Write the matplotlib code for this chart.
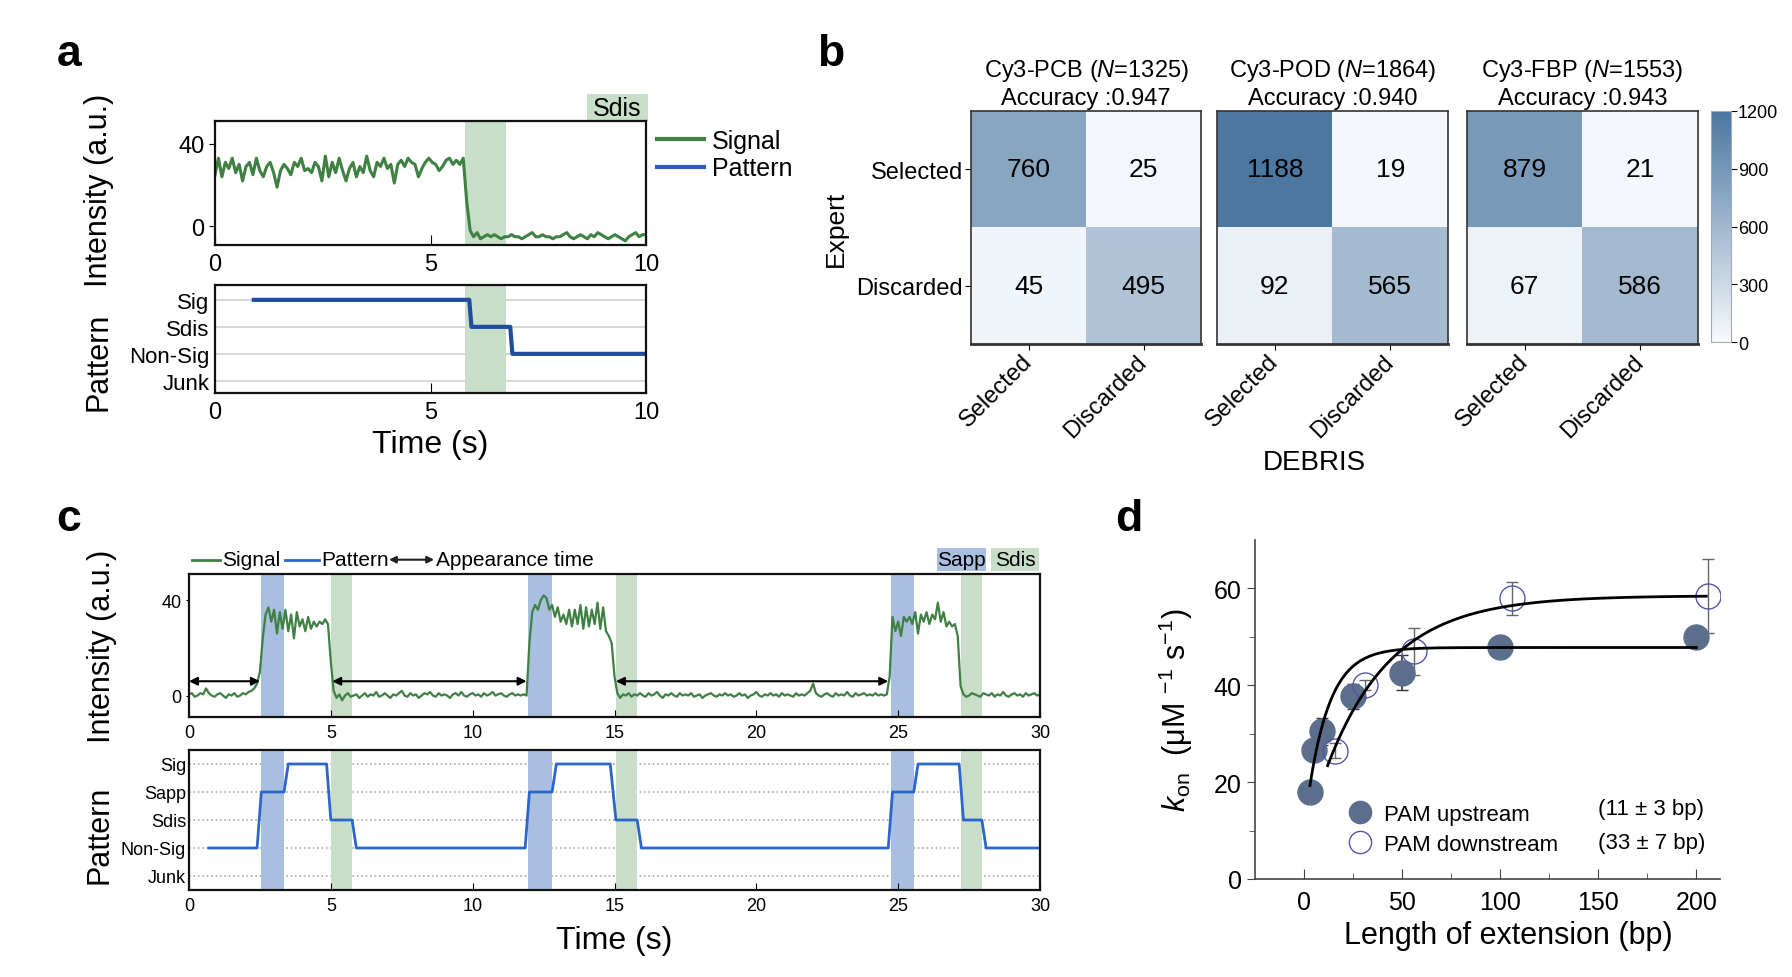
import numpy as np
import matplotlib
matplotlib.use('Agg')
import matplotlib.pyplot as plt
from matplotlib.colors import LinearSegmentedColormap
from matplotlib.patches import Rectangle
from matplotlib.lines import Line2D

plt.rcParams['font.family'] = ['Liberation Sans', 'DejaVu Sans']
plt.rcParams['mathtext.fontset'] = 'custom'
plt.rcParams['mathtext.rm'] = 'Liberation Sans'
plt.rcParams['mathtext.it'] = 'Liberation Sans:italic'

# ---------------- data ----------------
# panel a: single trace, segments given as (t_start, t_end, values)
a_high = [25, 33, 24, 31, 28, 33, 26, 30, 22, 29, 31, 25, 33, 27, 24, 29, 31, 26, 19, 27,
          30, 28, 25, 31, 29, 33, 27, 28, 26, 31, 29, 22, 34, 24, 31, 26, 33, 27, 22, 28,
          31, 24, 29, 26, 34, 27, 24, 31, 29, 33, 28, 30, 21, 30, 32, 29, 33, 31, 30, 24,
          28, 31, 33, 31, 30, 27, 29, 32, 33, 30, 32, 30, 33]
a_low = [12, -2, -5, -3, -6, -5, -4, -5, -4, -5, -6, -5, -5, -4, -5, -5, -6, -5, -4, -3,
         -5, -5, -4, -5, -5, -6, -5, -5, -4, -3, -5, -6, -5, -4, -5, -6, -4, -5, -3, -4,
         -5, -6, -5, -4, -5, -6, -7, -5, -4, -3, -5, -4, -4]
a_segments = [(0.0, 5.76, a_high), (5.84, 10.0, a_low)]
a_pattern_t = [0.9, 5.9, 5.95, 6.85, 6.9, 10.0]
a_pattern_lv = [3, 3, 2, 2, 1, 1]
a_levels = ['Junk', 'Non-Sig', 'Sdis', 'Sig']
a_sdis_band = (5.8, 6.75)

# panel b: confusion matrices
b_names = ['PCB', 'POD', 'FBP']
b_n = [1325, 1864, 1553]
b_acc = ['0.947', '0.940', '0.943']
b_mats = [[[760, 25], [45, 495]],
          [[1188, 19], [92, 565]],
          [[879, 21], [67, 586]]]
b_labels = ['Selected', 'Discarded']

# panel c: trace with three binding events
c_base1 = [0.5, 1.0, -0.5, 0.0, 1.0, 0.5, 3.0, 1.0, 0.0, -0.5, 0.5, 1.0, 0.0, -1.0, 0.5,
           0.0, 1.0, -0.5, 0.0, 1.0, 0.5, 1.5, 2.0, 3.0]
c_high1 = [5, 10, 24, 34, 37, 31, 36, 26, 35, 28, 36, 27, 34, 24, 35, 29, 32, 27, 33, 28,
           31, 29, 31, 30, 32, 30, 14]
c_base2 = [2, -1, 0.5, -2, 0, 1, -0.5, 0, 0.5, -1, 0, 1, -0.5, 0.5, 0, 1.5, -0.5, 0, 1, 0,
           -1, 0.5, 0, 1, 2, 0, -0.5, 1, 0, 0.5, -1, 0, 1, 0.5, 1.5, 0, -0.5, 1, 0, 0.5,
           0, -1, 0.5, 1, 0, 1.5, 0, -0.5, 0.5, 1, 0, 0.5, -0.5, 1, 0, 0.5, 1.5, 0, 0.5, 1,
           0, -0.5, 0.5, 1, 0, 0.5, 0, 0.5, 0]
c_high2 = [22, 35, 38, 36, 40, 42, 41, 36, 38, 33, 37, 31, 34, 30, 36, 29, 36, 30, 38, 28,
           37, 29, 36, 30, 39, 28, 37, 27, 25, 22, 8]
c_base3 = [1, -1, 0.5, 0, 1, -0.5, 0.5, 0, 1, 0, -0.5, 1, 0, 0.5, 1.5, 0, -1, 0.5, 0, 1,
           0, -0.5, 1, 0, 0.5, 0, 1, -0.5, 0, 0.5, -1, 0, 0.5, 1, 0, -0.5, 0.5, 0, 1, 0,
           0.5, -0.5, 0, 1, 0, 0.5, -1, 0, 0.5, 1.5, 0, -0.5, 0.5, 0, 1, 0, 0.5, -0.5, 1, 0,
           0.5, 0, -0.5, 1, 0, 0.5, 0, 1, 2, 5, 1, 0, -0.5, 0.5, 1, 0, -0.5, 1, 0, 0.5,
           0, 1.5, 0, -0.5, 1, 0, 0.5, 1, 0, 0.5, 0, 1, 0, 0.5, 0, 0.5]
c_high3 = [8, 33, 27, 31, 25, 33, 31, 33, 30, 35, 26, 34, 31, 35, 30, 34, 32, 39, 31, 35,
           29, 31, 29, 30, 25, 4]
c_base4 = [0.5, -0.5, 0, 1, 0.5, 0, -0.5, 1, 0.5, 0, 1, -0.5, 0.5, 0, 1.5, 0, -0.5, 0.5,
           1, 0, 0.5, -0.5, 1, 0, 0.5, 1, 0, 0.5]
c_segments = [(0.0, 2.3, c_base1), (2.4, 5.0, c_high1), (5.1, 11.9, c_base2),
              (12.0, 15.0, c_high2), (15.1, 24.6, c_base3), (24.7, 27.2, c_high3),
              (27.3, 30.0, c_base4)]
c_pattern_t = [0.7, 2.4, 2.55, 3.35, 3.5, 4.85, 5.0, 5.75, 5.9, 11.85, 12.0, 12.8, 12.95,
               14.85, 15.05, 15.8, 15.95, 24.65, 24.8, 25.55, 25.7, 27.15, 27.3, 27.95,
               28.1, 30.0]
c_pattern_lv = [1, 1, 3, 3, 4, 4, 2, 2, 1, 1, 3, 3, 4, 4, 2, 2, 1, 1, 3, 3, 4, 4, 2, 2, 1, 1]
c_levels = ['Junk', 'Non-Sig', 'Sdis', 'Sapp', 'Sig']
c_sapp_bands = [(2.55, 3.35), (11.95, 12.8), (24.75, 25.55)]
c_sdis_bands = [(5.0, 5.75), (15.05, 15.8), (27.2, 27.95)]
c_arrows = [(0.0, 2.5), (5.05, 11.9), (15.05, 24.65)]
c_arrow_y = 6

# panel d: kon vs extension length
up_x = [3, 5, 9, 25, 50, 100, 200]
up_y = [18.0, 26.6, 30.5, 37.7, 42.6, 48.0, 50.0]
up_err = [2.0, 1.5, 2.8, 2.5, 3.6, 1.2, 1.5]
dn_x = [16, 31, 56, 106, 206]
dn_y = [26.5, 40.0, 47.0, 58.0, 58.4]
dn_err = [1.5, 1.0, 4.8, 3.4, 7.6]
# exponential fits: plateau, start x, start y, decay length (bp)
up_fit = (47.8, 3, 19.3, 11)
dn_fit = (58.5, 12, 23.4, 33)
up_fit_end = 200
dn_fit_end = 205

green = '#3e8143'
green_band = '#c9dec9'
blue_band = '#a9bfe0'
blue_a = '#1e4f9e'
blue_c = '#2c66cc'

W, H = 1792, 978
fig = plt.figure(figsize=(W / 100, H / 100), dpi=100)


def rect(x0, y0, x1, y1):
    # pixel box -> figure fraction
    return [x0 / W, 1 - y1 / H, (x1 - x0) / W, (y1 - y0) / H]


def trace(segments):
    t, v = [], []
    for t0, t1, vals in segments:
        t.append(np.linspace(t0, t1, len(vals)))
        v.append(np.array(vals, dtype=float))
    return np.concatenate(t), np.concatenate(v)


def frame(ax, lw=1.6):
    for s in ax.spines.values():
        s.set_linewidth(lw)
        s.set_color('#111111')


# ---------------- panel a ----------------
ax = fig.add_axes(rect(215, 122, 646, 246))
ax.axvspan(*a_sdis_band, color=green_band, lw=0)
t, v = trace(a_segments)
ax.plot(t, v, color=green, lw=2.2)
ax.set_xlim(0, 10)
ax.set_ylim(-9, 51)
ax.set_xticks([0, 5, 10])
ax.set_yticks([0, 40])
ax.tick_params(axis='x', direction='in', length=7, labelsize=17, pad=6)
ax.tick_params(axis='y', direction='out', length=4, labelsize=17)
frame(ax)
ax.set_ylabel('Intensity (a.u.)', fontsize=22)
ax.yaxis.set_label_coords(-0.235, 0.45)
handles = [Line2D([], [], color=green, lw=3), Line2D([], [], color='#2a5fb5', lw=3)]
ax.legend(handles, ['Signal', 'Pattern'], loc='upper left', bbox_to_anchor=(0.99, 1.06),
          frameon=False, fontsize=18, handlelength=1.9, handletextpad=0.3,
          labelspacing=0.15, borderaxespad=0.2)
ax.add_patch(Rectangle((0.862, 1.0), 0.143, 0.22, transform=ax.transAxes,
                       color=green_band, clip_on=False, lw=0))
ax.text(0.933, 1.105, 'Sdis', transform=ax.transAxes, ha='center', va='center', fontsize=18)

ax = fig.add_axes(rect(215, 286, 646, 394))
for i in range(len(a_levels)):
    ax.axhline(i, color='#d8d8d8', lw=1.5, zorder=0)
ax.axvspan(*a_sdis_band, color=green_band, lw=0)
ax.plot(a_pattern_t, a_pattern_lv, color=blue_a, lw=3)
ax.set_xlim(0, 10)
ax.set_ylim(-0.45, 3.55)
ax.set_xticks([0, 5, 10])
ax.set_yticks(range(len(a_levels)))
ax.set_yticklabels(a_levels)
ax.tick_params(axis='x', direction='in', length=7, labelsize=17, pad=6)
ax.tick_params(axis='y', length=0, labelsize=16, pad=4)
frame(ax)
ax.set_ylabel('Pattern', fontsize=22)
ax.yaxis.set_label_coords(-0.235, 0.3)
ax.set_xlabel('Time (s)', fontsize=23, labelpad=4)

# ---------------- panel b ----------------
cmap = LinearSegmentedColormap.from_list('conf', ['#f7fafd', '#4a76a0'])
b_boxes = [(971, 112, 1201, 345), (1217, 112, 1448, 345), (1467, 112, 1698, 345)]
for i in range(3):
    ax = fig.add_axes(rect(*b_boxes[i]))
    im = ax.imshow(b_mats[i], cmap=cmap, vmin=0, vmax=1200, aspect='auto')
    for r in range(2):
        for c in range(2):
            ax.text(c, r, str(b_mats[i][r][c]), ha='center', va='center', fontsize=19)
    ax.set_xticks([0, 1])
    ax.set_xticklabels(b_labels, rotation=45, ha='right', va='center',
                       rotation_mode='anchor', fontsize=17)
    ax.tick_params(axis='x', length=4, pad=6)
    if i == 0:
        ax.set_yticks([0, 1])
        ax.set_yticklabels(b_labels, fontsize=17)
        ax.tick_params(axis='y', length=4, pad=2)
        ax.set_ylabel('Expert', fontsize=19, labelpad=6)
    else:
        ax.set_yticks([])
    ax.set_title('Cy3-%s ($N$=%d)\nAccuracy :%s' % (b_names[i], b_n[i], b_acc[i]),
                 fontsize=17, pad=5, linespacing=1.25)
    for s in ax.spines.values():
        s.set_linewidth(1.2)
        s.set_color('#333333')
    ax.spines['bottom'].set_linewidth(2)

cax = fig.add_axes(rect(1711, 112, 1731, 343))
cb = fig.colorbar(im, cax=cax, ticks=[0, 300, 600, 900, 1200])
cb.ax.tick_params(labelsize=13, length=4, pad=1)
cb.outline.set_edgecolor('#aaaaaa')
fig.text(1314 / W, 1 - 463 / H, 'DEBRIS', ha='center', va='center', fontsize=20)

# ---------------- panel c ----------------
ax = fig.add_axes(rect(189, 575, 1040, 718))
for b in c_sapp_bands:
    ax.axvspan(*b, color=blue_band, lw=0)
for b in c_sdis_bands:
    ax.axvspan(*b, color=green_band, lw=0)
t, v = trace(c_segments)
ax.plot(t, v, color=green, lw=1.6)
for x0, x1 in c_arrows:
    ax.annotate('', xy=(x1, c_arrow_y), xytext=(x0, c_arrow_y),
                arrowprops=dict(arrowstyle='<|-|>', color='black', lw=1.5,
                                mutation_scale=12, shrinkA=0, shrinkB=0))
ax.set_xlim(0, 30)
ax.set_ylim(-9, 51)
ax.set_xticks(range(0, 31, 5))
ax.set_yticks([0, 40])
ax.tick_params(axis='x', direction='in', length=5, labelsize=13, pad=5)
ax.tick_params(axis='y', direction='out', length=2, labelsize=13)
frame(ax)
ax.set_ylabel('Intensity (a.u.)', fontsize=22)
ax.yaxis.set_label_coords(-0.085, 0.5)
# legend row above the axes
ly = 1.1
ax.plot([0.004, 0.036], [ly, ly], transform=ax.transAxes, color=green, lw=2, clip_on=False)
ax.text(0.039, ly, 'Signal', transform=ax.transAxes, va='center', fontsize=15)
ax.plot([0.113, 0.153], [ly, ly], transform=ax.transAxes, color=blue_c, lw=2, clip_on=False)
ax.text(0.155, ly, 'Pattern', transform=ax.transAxes, va='center', fontsize=15)
ax.annotate('', xy=(0.288, ly), xytext=(0.235, ly), xycoords='axes fraction',
            arrowprops=dict(arrowstyle='<|-|>', color='#222222', lw=1.5,
                            mutation_scale=10, shrinkA=0, shrinkB=0))
ax.text(0.29, ly, 'Appearance time', transform=ax.transAxes, va='center', fontsize=15)
ax.add_patch(Rectangle((0.879, 1.02), 0.057, 0.16, transform=ax.transAxes,
                       color=blue_band, clip_on=False, lw=0))
ax.text(0.9075, 1.10, 'Sapp', transform=ax.transAxes, ha='center', va='center', fontsize=15)
ax.add_patch(Rectangle((0.942, 1.02), 0.057, 0.16, transform=ax.transAxes,
                       color=green_band, clip_on=False, lw=0))
ax.text(0.9705, 1.10, 'Sdis', transform=ax.transAxes, ha='center', va='center', fontsize=15)

ax = fig.add_axes(rect(189, 751, 1040, 891))
for i in range(len(c_levels)):
    ax.axhline(i, color='#aaaaaa', lw=1.2, ls=':', zorder=0)
for b in c_sapp_bands:
    ax.axvspan(*b, color=blue_band, lw=0)
for b in c_sdis_bands:
    ax.axvspan(*b, color=green_band, lw=0)
ax.plot(c_pattern_t, c_pattern_lv, color=blue_c, lw=2)
ax.set_xlim(0, 30)
ax.set_ylim(-0.5, 4.5)
ax.set_xticks(range(0, 31, 5))
ax.set_yticks(range(len(c_levels)))
ax.set_yticklabels(c_levels)
ax.tick_params(axis='x', direction='in', length=5, labelsize=13, pad=5)
ax.tick_params(axis='y', length=0, labelsize=13, pad=2)
frame(ax)
ax.set_ylabel('Pattern', fontsize=22)
ax.yaxis.set_label_coords(-0.088, 0.4)
ax.set_xlabel('Time (s)', fontsize=23, labelpad=8)

# ---------------- panel d ----------------
ax = fig.add_axes(rect(1255, 541, 1720, 880))
for fit, x_end in [(up_fit, up_fit_end), (dn_fit, dn_fit_end)]:
    plateau, x0, y0, tau = fit
    xs = np.linspace(x0, x_end, 300)
    ax.plot(xs, plateau - (plateau - y0) * np.exp(-(xs - x0) / tau), color='black', lw=2, zorder=3)
ax.errorbar(up_x, up_y, yerr=up_err, fmt='o', ms=18, mfc='#5b6f8c', mec='#5b6f8c',
            ecolor='#333333', elinewidth=1.2, capsize=4, zorder=2)
ax.errorbar(dn_x, dn_y, yerr=dn_err, fmt='o', ms=18, mfc='none', mec='#5656a6', mew=1,
            ecolor='#666666', elinewidth=1.0, capsize=4, zorder=2)
ax.set_xlim(-25, 212)
ax.set_ylim(0, 70)
ax.set_xticks([0, 50, 100, 150, 200])
ax.set_xticks([25, 75, 125, 175], minor=True)
ax.set_yticks([0, 20, 40, 60])
ax.set_yticks([10, 30, 50], minor=True)
ax.spines['top'].set_visible(False)
ax.spines['right'].set_visible(False)
for s in ['left', 'bottom']:
    ax.spines[s].set_color('#444444')
    ax.spines[s].set_linewidth(1.2)
ax.tick_params(axis='x', which='both', direction='in', labelsize=18, pad=8, color='#444444')
ax.tick_params(axis='x', which='major', length=7)
ax.tick_params(axis='x', which='minor', length=4)
ax.tick_params(axis='y', which='both', direction='out', labelsize=18, color='#444444')
ax.tick_params(axis='y', which='major', length=6)
ax.tick_params(axis='y', which='minor', length=4)
ax.set_ylabel(r'$k_{\mathrm{on}}$  (μM $^{-1}$ s$^{-1}$)', fontsize=22)
ax.yaxis.set_label_coords(-0.13, 0.5)
ax.set_xlabel('Length of extension (bp)', fontsize=22)
ax.xaxis.set_label_coords(0.545, -0.12)
handles = [Line2D([], [], ls='', marker='o', ms=16, mfc='#5b6f8c', mec='#5b6f8c'),
           Line2D([], [], ls='', marker='o', ms=16, mfc='none', mec='#5656a6', mew=1)]
ax.legend(handles, ['PAM upstream', 'PAM downstream'], loc='lower left',
          bbox_to_anchor=(0.187, 0.071), frameon=False, fontsize=16, handlelength=1.6,
          handletextpad=0.3, labelspacing=0.42, borderpad=0, borderaxespad=0)
ax.text(0.737, 0.209, '(11 ± 3 bp)', transform=ax.transAxes, va='center', fontsize=16)
ax.text(0.737, 0.108, '(33 ± 7 bp)', transform=ax.transAxes, va='center', fontsize=16)

# panel letters
for lab, x, y in [('a', 69, 55), ('b', 831, 55), ('c', 69, 520), ('d', 1129, 520)]:
    fig.text(x / W, 1 - y / H, lab, fontsize=32, fontweight='bold', ha='center', va='center')

fig.savefig('out.png', dpi=100)
